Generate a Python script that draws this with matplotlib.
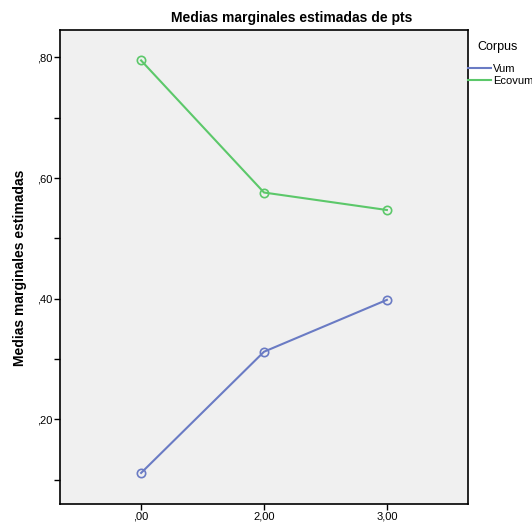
import matplotlib
matplotlib.use("Agg")
import matplotlib.pyplot as plt
from matplotlib.ticker import FixedLocator

plt.rcParams['font.family'] = ['Liberation Sans', 'DejaVu Sans']

categories = [",00", "2,00", "3,00"]
series_names = ["Vum", "Ecovum"]
vum = [0.111, 0.312, 0.398]
ecovum = [0.795, 0.576, 0.547]
colors = ["#6a7bc4", "#5cc86a"]
ytick_vals = [0.2, 0.4, 0.6, 0.8]
ytick_labels = [",20", ",40", ",60", ",80"]

fig = plt.figure(figsize=(5.32, 5.24), dpi=100)
ax = fig.add_axes([60/532, 20/524, 408/532, 474/524])
ax.set_facecolor("#f0f0f0")

x = list(range(len(categories)))
for vals, name, c in zip([vum, ecovum], series_names, colors):
    ax.plot(x, vals, color=c, lw=1.5, marker="o", markersize=6,
            markerfacecolor="none", markeredgecolor=c, markeredgewidth=1.2, label=name)

ax.set_xlim(-0.66, 2.66)
ax.set_ylim(0.0595, 0.8455)
ax.set_xticks(x)
ax.set_xticklabels(categories, fontsize=8)
ax.yaxis.set_major_locator(FixedLocator(ytick_vals))
ax.set_yticklabels(ytick_labels, fontsize=8)
ax.yaxis.set_minor_locator(FixedLocator([0.1, 0.3, 0.5, 0.7]))
ax.tick_params(axis='both', which='major', length=4.5, width=1, color='black', pad=1)
ax.tick_params(axis='y', which='minor', length=4.5, width=1, color='black')
for s in ax.spines.values():
    s.set_color("black")
    s.set_linewidth(1.2)

fig.text(292/532, 1 - 18/524, "Medias marginales estimadas de pts", ha="center", va="center",
         fontsize=10, fontweight="bold")
fig.text(20/532, 1 - 268/524, "Medias marginales estimadas", ha="center", va="center",
         rotation=90, fontsize=10, fontweight="bold")
fig.text(498/532, 1 - 47/524, "Corpus", ha="center", va="center", fontsize=9)

leg = ax.legend(loc="upper left", bbox_to_anchor=(468/532, 1 - 64/524),
                bbox_transform=fig.transFigure, frameon=False,
                fontsize=8, handlelength=2.1, handletextpad=0.15, labelspacing=0.15,
                borderaxespad=0.0, borderpad=0.0)
for h in leg.legend_handles:
    h.set_marker("")

fig.savefig("out.png", dpi=100)
